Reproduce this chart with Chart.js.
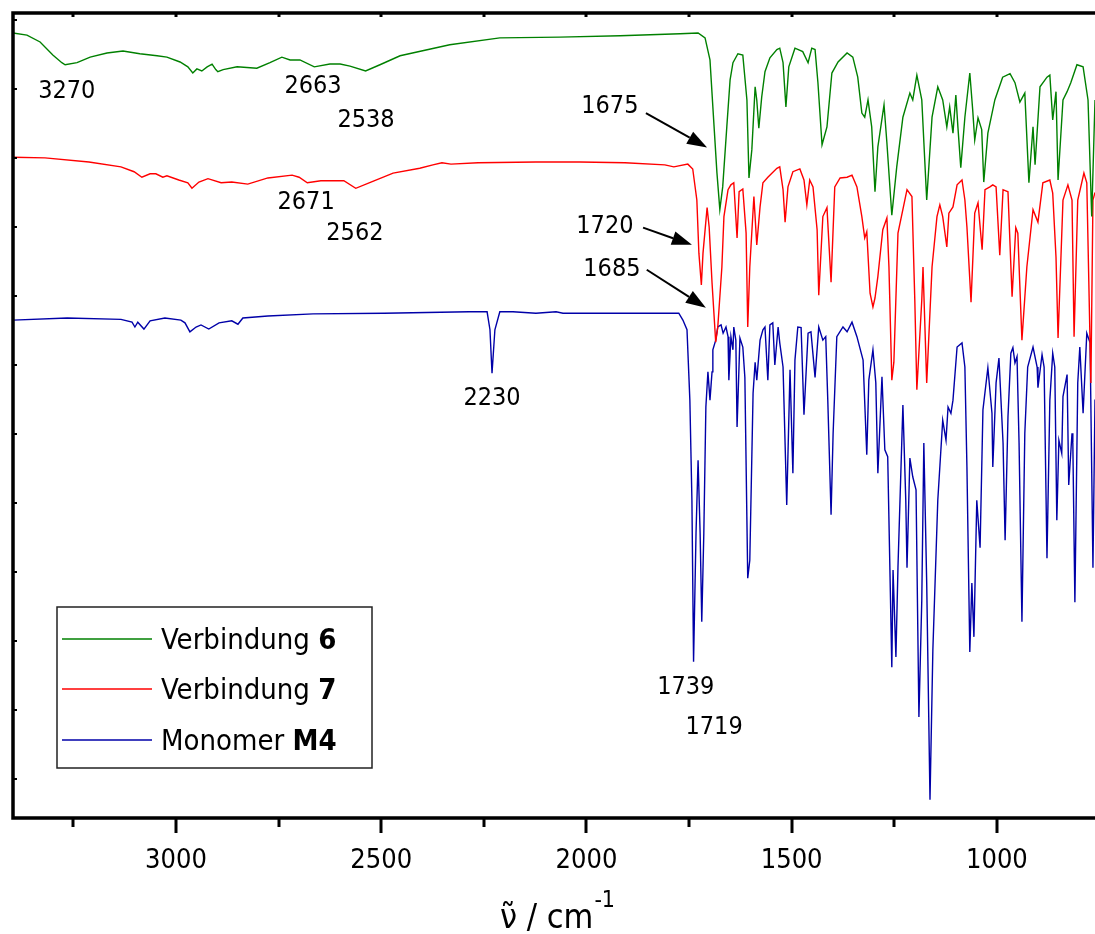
<!DOCTYPE html>
<html>
<head>
<meta charset="utf-8">
<script src="https://cdn.jsdelivr.net/npm/chart.js@4.4.1/dist/chart.umd.min.js"></script>
<style>
  html, body { margin: 0; padding: 0; background: #fff; }
</style>
</head>
<body>
<canvas id="irChart" width="1095" height="934"></canvas>
<script>
// wavenumber (cm-1) and offset transmittance
const greenWn = [3397,3363,3331,3300,3278,3270,3241,3209,3168,3129,3088,3046,3022,2990,2971,2959,2949,2937,2924,2912,
  2903,2898,2885,2851,2803,2771,2742,2722,2698,2663,2625,2600,2576,2538,2503,2454,2333,2211,2065,1918,
  1772,1728,1711,1699,1692,1682,1675,1668,1658,1650,1643,1631,1619,1609,1604,1597,1589,1585,1580,1573,
  1565,1553,1536,1529,1521,1514,1507,1492,1473,1460,1451,1443,1436,1426,1414,1402,1387,1365,1351,1339,
  1329,1322,1314,1305,1297,1290,1275,1268,1256,1244,1229,1212,1205,1195,1183,1171,1158,1144,1132,1122,
  1115,1107,1100,1095,1088,1078,1066,1059,1054,1046,1037,1032,1022,1005,986,968,956,944,932,922,
  912,907,895,878,871,864,856,851,839,829,820,805,790,778,769,761];
const greenT = [108.1,107.8,106.8,104.9,103.8,103.5,103.8,104.6,105.2,105.5,105.1,104.8,104.6,103.9,103.2,102.3,102.9,102.6,103.2,103.6,
  102.8,102.5,102.8,103.2,103.0,103.8,104.6,104.2,104.2,103.2,103.6,103.6,103.3,102.6,103.5,104.8,106.4,107.4,107.5,107.7,
  108.0,108.1,107.4,104.2,97.4,87.8,82.5,85.8,94.5,101.3,103.8,105.1,104.9,98.4,87.1,91.2,100.3,98.4,94.3,98.8,
  102.5,104.5,105.7,105.9,103.8,97.4,103.2,105.9,105.4,103.8,105.9,105.7,100.9,91.9,94.5,102.3,103.9,105.2,104.6,101.7,
  96.5,95.9,98.4,94.5,85.1,91.6,97.7,92.2,81.7,88.7,95.9,99.4,98.4,102.0,98.4,83.9,95.9,100.3,98.4,94.5,
  97.4,93.6,99.1,94.5,88.6,95.9,102.3,97.0,92.6,95.8,94.1,86.5,93.6,98.4,101.7,102.2,100.9,98.1,99.4,86.4,
  94.5,89.0,100.3,101.7,102.0,95.5,99.6,86.8,98.4,99.6,100.9,103.5,103.2,98.4,81.5,98.4];

const redWn = [3397,3319,3212,3134,3102,3083,3063,3049,3032,3022,2993,2971,2961,2944,2922,2890,2864,2825,2776,2717,
  2700,2680,2647,2591,2562,2525,2471,2406,2374,2352,2330,2264,2123,2016,1906,1809,1787,1753,1741,1731,
  1726,1720,1716,1706,1701,1694,1685,1680,1670,1665,1655,1648,1641,1633,1628,1619,1611,1607,1602,1592,
  1585,1577,1570,1558,1536,1529,1521,1516,1509,1497,1480,1470,1463,1456,1448,1438,1434,1424,1414,1404,
  1395,1382,1365,1353,1341,1329,1322,1317,1309,1302,1297,1290,1278,1268,1263,1256,1251,1241,1219,1207,
  1200,1195,1183,1180,1171,1158,1146,1139,1132,1122,1117,1107,1097,1085,1078,1073,1063,1054,1046,1036,
  1029,1017,1010,1002,993,985,973,963,954,949,939,927,912,900,888,871,864,856,851,839,
  827,817,812,803,788,781,771,766,761];
const redT = [90.1,90.0,89.4,88.7,88.0,87.2,87.7,87.7,87.2,87.4,86.8,86.4,85.6,86.5,87.0,86.4,86.5,86.2,87.1,87.5,
  87.2,86.4,86.7,86.7,85.6,86.5,87.8,88.5,89.0,89.3,89.1,89.3,89.4,89.4,89.3,89.0,88.7,89.1,88.4,83.9,
  76.2,71.6,76.2,82.8,80.0,71.9,63.3,65.5,74.2,81.5,85.4,86.1,86.4,78.4,85.1,85.5,79.1,65.5,74.2,84.4,
  77.4,82.9,86.4,87.2,88.5,88.7,85.4,80.7,85.8,88.0,88.4,86.8,83.2,86.8,85.8,79.6,70.1,81.5,82.8,72.0,
  85.8,87.1,87.2,87.5,85.8,81.5,78.4,79.3,70.4,68.4,69.7,72.8,79.6,81.3,74.2,57.8,60.4,79.1,85.4,84.4,
  69.4,56.4,69.4,74.2,57.4,74.2,81.5,83.2,81.5,77.1,82.0,82.9,86.1,86.8,83.9,80.0,69.1,82.0,83.5,76.7,
  85.4,85.8,86.1,85.8,75.9,85.4,85.1,69.9,79.9,79.1,63.6,74.2,82.5,80.7,86.4,86.8,84.9,75.6,63.9,83.9,
  86.1,83.9,64.1,83.9,87.8,86.4,57.4,83.9,85.0];

const blueWn = [3397,3265,3134,3107,3100,3093,3078,3063,3027,2988,2978,2966,2951,2939,2920,2895,2864,2849,2837,2776,
  2666,2493,2286,2242,2235,2230,2223,2211,2179,2123,2074,2057,1775,1765,1755,1748,1743,1739,1733,1728,
  1723,1719,1714,1709,1704,1699,1694,1692,1685,1680,1672,1667,1660,1655,1653,1648,1643,1641,1636,1633,
  1626,1619,1614,1607,1602,1594,1589,1585,1577,1570,1565,1558,1553,1546,1541,1533,1529,1521,1512,1504,
  1497,1492,1485,1477,1470,1460,1453,1443,1434,1424,1417,1412,1404,1399,1390,1375,1365,1353,1341,1326,
  1317,1312,1302,1295,1290,1280,1273,1266,1256,1253,1246,1241,1229,1222,1219,1212,1205,1197,1190,1183,
  1178,1171,1163,1156,1144,1132,1124,1119,1112,1107,1097,1085,1078,1073,1066,1061,1056,1049,1041,1034,
  1022,1012,1010,1002,995,985,980,973,966,961,956,951,946,939,932,925,912,902,900,890,
  885,878,871,864,859,854,849,842,839,829,825,817,815,810,803,798,790,781,773,766,761];
const blueT = [66.5,66.8,66.6,66.2,65.5,66.2,65.2,66.4,66.8,66.5,66.1,64.8,65.5,65.8,65.2,66.1,66.4,65.9,66.8,67.1,
  67.4,67.5,67.7,67.7,65.1,58.8,65.1,67.7,67.7,67.5,67.7,67.5,67.5,66.5,65.1,54.9,40.4,17.0,35.6,46.2,
  35.6,22.8,35.6,53.9,59.0,54.9,59.0,62.2,63.6,65.5,65.8,64.6,65.5,64.1,57.8,64.1,62.2,65.5,63.6,51.0,
  63.9,62.6,58.2,29.1,31.7,55.9,60.4,57.8,63.6,65.1,65.5,57.8,65.8,66.1,60.0,65.5,63.2,59.7,39.7,59.3,
  44.3,60.7,65.5,65.4,52.8,64.6,64.8,58.2,65.5,63.6,64.1,54.9,38.3,50.1,64.1,65.5,64.8,66.2,64.1,60.7,
  47.0,57.8,62.2,57.4,44.3,58.3,47.7,46.7,16.2,30.3,17.7,30.7,54.2,40.4,30.6,46.5,43.8,41.9,9.0,25.9,
  48.7,28.4,-3.0,18.7,40.4,52.0,49.1,53.9,53.0,54.9,62.6,63.2,59.7,45.2,18.4,28.4,20.6,40.4,33.5,53.5,
  59.6,53.0,45.2,57.4,61.0,48.7,34.6,52.5,61.7,62.5,60.3,61.2,48.7,22.8,50.1,59.7,62.6,59.7,56.7,61.5,
  59.7,32.0,54.9,61.7,59.7,37.5,49.1,47.2,55.4,58.6,42.6,50.1,48.7,25.6,57.4,62.6,53.0,64.6,63.2,30.6,55.0];

const seriesNames = ['Verbindung ', 'Verbindung ', 'Monomer '];
const seriesBold = ['6', '7', 'M4'];
const seriesColors = ['#008000', '#ff0000', '#0000a8'];

const majorTicks = [3000, 2500, 2000, 1500, 1000];
const minorTicks = [3250, 2750, 2250, 1750, 1250];
const yTicks = [0, 10, 20, 30, 40, 50, 60, 70, 80, 90, 100, 110];

const peakText = ['3270', '2663', '2538', '1675', '2671', '2562', '1720', '1685', '2230', '1739', '1719'];
const peakTextWn = [3266, 2666, 2537, 1943, 2683, 2564, 1955, 1938, 2230, 1758, 1689];
const peakTextT = [99.6, 100.3, 95.4, 97.5, 83.5, 79.0, 80.0, 73.8, 55.1, 13.2, 7.5];

const arrowFromWn = [1855, 1862, 1853];
const arrowFromT = [96.5, 79.9, 73.8];
const arrowToWn = [1706, 1743, 1709];
const arrowToT = [91.5, 77.4, 68.3];

const FONT = "'DejaVu Sans Condensed', 'DejaVu Sans', sans-serif";

function zip(xs, ys) {
  return xs.map((v, i) => ({x: v, y: ys[i]}));
}

const overlay = {
  id: 'overlay',
  afterDatasetsDraw(chart) {
    const {ctx, scales: {x, y}} = chart;
    ctx.save();
    ctx.fillStyle = '#000';
    ctx.strokeStyle = '#000';
    ctx.font = '25px ' + FONT;
    ctx.textAlign = 'center';
    ctx.textBaseline = 'middle';
    peakText.forEach((t, i) => {
      ctx.fillText(t, x.getPixelForValue(peakTextWn[i]), y.getPixelForValue(peakTextT[i]));
    });
    // arrows
    ctx.lineWidth = 2;
    arrowFromWn.forEach((w, i) => {
      const x0 = x.getPixelForValue(w), y0 = y.getPixelForValue(arrowFromT[i]);
      const x1 = x.getPixelForValue(arrowToWn[i]), y1 = y.getPixelForValue(arrowToT[i]);
      const ang = Math.atan2(y1 - y0, x1 - x0);
      const hl = 20, hw = 7;
      const bx = x1 - hl * Math.cos(ang), by = y1 - hl * Math.sin(ang);
      ctx.beginPath();
      ctx.moveTo(x0, y0);
      ctx.lineTo(bx, by);
      ctx.stroke();
      ctx.beginPath();
      ctx.moveTo(x1, y1);
      ctx.lineTo(bx + hw * Math.sin(ang), by - hw * Math.cos(ang));
      ctx.lineTo(bx - hw * Math.sin(ang), by + hw * Math.cos(ang));
      ctx.closePath();
      ctx.fill();
    });
    ctx.restore();
  },
  afterDraw(chart) {
    const {ctx, chartArea: a, scales: {x, y}} = chart;
    ctx.save();
    ctx.strokeStyle = '#000';
    ctx.fillStyle = '#000';
    // frame (right side is cut off in the original)
    ctx.lineWidth = 3.5;
    ctx.beginPath();
    ctx.moveTo(a.left, a.bottom);
    ctx.lineTo(a.left, a.top);
    ctx.lineTo(a.right, a.top);
    ctx.moveTo(a.left - 1.75, a.bottom);
    ctx.lineTo(a.right, a.bottom);
    ctx.stroke();
    // bottom ticks outward, small ones on top
    ctx.lineWidth = 3;
    majorTicks.forEach(v => {
      const px = Math.round(x.getPixelForValue(v));
      ctx.beginPath(); ctx.moveTo(px, a.bottom); ctx.lineTo(px, a.bottom + 15); ctx.stroke();
      ctx.beginPath(); ctx.moveTo(px, a.top); ctx.lineTo(px, a.top + 4); ctx.stroke();
    });
    minorTicks.forEach(v => {
      const px = Math.round(x.getPixelForValue(v));
      ctx.beginPath(); ctx.moveTo(px, a.bottom); ctx.lineTo(px, a.bottom + 9); ctx.stroke();
      ctx.beginPath(); ctx.moveTo(px, a.top); ctx.lineTo(px, a.top + 4); ctx.stroke();
    });
    ctx.lineWidth = 2;
    yTicks.forEach(v => {
      const py = Math.round(y.getPixelForValue(v));
      ctx.beginPath(); ctx.moveTo(a.left, py); ctx.lineTo(a.left + 4, py); ctx.stroke();
    });

    // tick labels
    ctx.font = '27px ' + FONT;
    ctx.textAlign = 'center';
    ctx.textBaseline = 'alphabetic';
    majorTicks.forEach(v => {
      ctx.fillText(String(v), x.getPixelForValue(v), 868);
    });

    // axis title with superscript
    const main = '\u03BD\u0303 / cm', sup = '-1';
    ctx.font = '34px ' + FONT;
    const w1 = ctx.measureText(main).width;
    ctx.font = '23px ' + FONT;
    const w2 = ctx.measureText(sup).width;
    const sx = 557 - (w1 + w2) / 2;
    ctx.textAlign = 'left';
    ctx.font = '34px ' + FONT;
    ctx.fillText(main, sx, 928);
    ctx.font = '23px ' + FONT;
    ctx.fillText(sup, sx + w1 + 1, 907);

    // legend box
    ctx.fillStyle = '#fff';
    ctx.fillRect(57, 607, 315, 161);
    ctx.strokeStyle = '#222';
    ctx.lineWidth = 1.5;
    ctx.strokeRect(57, 607, 315, 161);
    const rows = [639, 689, 740];
    rows.forEach((ry, i) => {
      ctx.strokeStyle = seriesColors[i];
      ctx.lineWidth = 1.4;
      ctx.beginPath(); ctx.moveTo(62, ry); ctx.lineTo(152, ry); ctx.stroke();
      ctx.fillStyle = '#000';
      ctx.textBaseline = 'middle';
      ctx.font = '29px ' + FONT;
      ctx.fillText(seriesNames[i], 161, ry + 2);
      const nw = ctx.measureText(seriesNames[i]).width;
      ctx.font = 'bold 29px ' + FONT;
      ctx.fillText(seriesBold[i], 161 + nw, ry + 2);
    });
    ctx.restore();
  }
};

new Chart(document.getElementById('irChart'), {
  type: 'line',
  data: {
    datasets: [
      {label: 'Verbindung 6', data: zip(greenWn, greenT), borderColor: seriesColors[0]},
      {label: 'Verbindung 7', data: zip(redWn, redT), borderColor: seriesColors[1]},
      {label: 'Monomer M4', data: zip(blueWn, blueT), borderColor: seriesColors[2]}
    ]
  },
  options: {
    responsive: false,
    animation: false,
    devicePixelRatio: 1,
    layout: {padding: {left: 13, top: 13, right: 0, bottom: 0}},
    elements: {
      line: {borderWidth: 1.4, tension: 0, fill: false},
      point: {radius: 0}
    },
    plugins: {legend: {display: false}, tooltip: {enabled: false}},
    scales: {
      x: {
        type: 'linear',
        reverse: true,
        min: 761,
        max: 3397,
        grid: {display: false, drawTicks: false},
        border: {display: false},
        ticks: {display: false},
        afterFit(s) { s.height = 116; }
      },
      y: {
        display: false,
        min: -5.65,
        max: 111.0
      }
    }
  },
  plugins: [overlay]
});
</script>
</body>
</html>
